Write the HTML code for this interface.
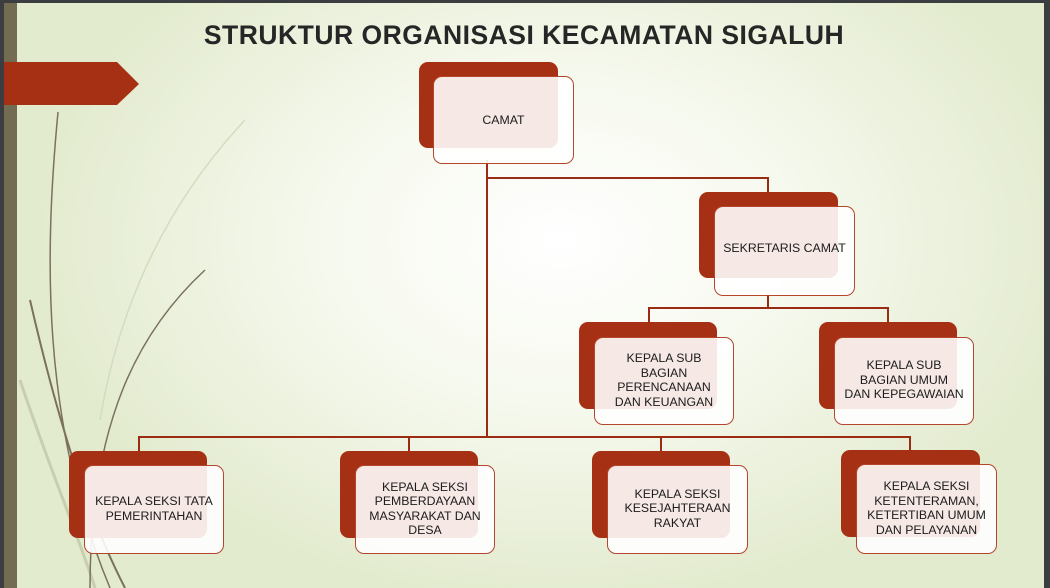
<!DOCTYPE html>
<html><head><meta charset="utf-8"><style>
html,body{margin:0;padding:0}
body{width:1050px;height:588px;position:relative;overflow:hidden;
background:radial-gradient(ellipse 520px 360px at 560px 240px,#ffffff 0%,#f6f9ee 45%,#e3ebcf 100%);
font-family:"Liberation Sans",sans-serif;}
.r{position:absolute;background:#a63013;border-radius:9px}
.f{position:absolute;background:rgba(255,255,255,0.89);border:1.5px solid #b4462c;border-radius:9px;box-sizing:border-box;display:flex;align-items:center;justify-content:center;text-align:center;font-size:12.3px;line-height:14.5px;color:#1c1c1c;padding:0;white-space:nowrap}
.l{position:absolute;background:#9b2c14}
</style></head><body>
<div style="position:absolute;left:0;top:0;width:1050px;height:3px;background:#3b3d40"></div>
<div style="position:absolute;left:0;top:0;width:4px;height:588px;background:#3b3d40"></div>
<div style="position:absolute;left:4px;top:3px;width:13px;height:585px;background:#736b52"></div>
<div style="position:absolute;left:1044px;top:0;width:6px;height:588px;background:#3b3d40"></div>
<svg style="position:absolute;left:0;top:0" width="1050" height="588">
<path d="M58 112 C45 250 40 420 110 588" stroke="#7a725a" stroke-width="1.5" fill="none"/>
<path d="M30 300 C60 430 90 520 125 588" stroke="#7a725a" stroke-width="2" fill="none"/>
<path d="M20 380 C50 470 80 540 95 588" stroke="#c7cfb0" stroke-width="3" fill="none"/>
<path d="M205 270 C140 330 90 420 90 588" stroke="#7a725a" stroke-width="1.5" fill="none"/>
<path d="M245 120 C170 200 120 300 100 420" stroke="#d4dcc0" stroke-width="1.5" fill="none"/>
<path d="M4 62 L117 62 L139 84 L117 105 L4 105 Z" fill="#a63013"/>
</svg>
<div style="position:absolute;left:0;width:1048px;top:20px;text-align:center;font-size:26.5px;font-weight:bold;color:#262626;letter-spacing:0.5px">STRUKTUR ORGANISASI KECAMATAN SIGALUH</div>

<div class="l" style="left:486px;top:160px;width:2px;height:278px"></div>
<div class="l" style="left:487px;top:177px;width:282px;height:1.5px"></div>
<div class="l" style="left:767px;top:177px;width:1.5px;height:16px"></div>
<div class="l" style="left:767px;top:294px;width:1.5px;height:15px"></div>
<div class="l" style="left:648px;top:307px;width:241px;height:1.5px"></div>
<div class="l" style="left:648px;top:307px;width:1.5px;height:16px"></div>
<div class="l" style="left:887px;top:307px;width:1.5px;height:16px"></div>
<div class="l" style="left:138px;top:436px;width:773px;height:1.5px"></div>
<div class="l" style="left:138px;top:436px;width:1.5px;height:16px"></div>
<div class="l" style="left:408px;top:436px;width:1.5px;height:16px"></div>
<div class="l" style="left:660px;top:436px;width:1.5px;height:16px"></div>
<div class="l" style="left:909px;top:436px;width:1.5px;height:16px"></div>

<div class="r" style="left:419px;top:62px;width:139px;height:86px"></div>
<div class="f" style="left:433px;top:76px;width:141px;height:88px">CAMAT</div>

<div class="r" style="left:699px;top:192px;width:139px;height:86px"></div>
<div class="f" style="left:714px;top:206px;width:141px;height:90px;padding-bottom:6px">SEKRETARIS CAMAT</div>

<div class="r" style="left:579px;top:322px;width:138px;height:87px"></div>
<div class="f" style="left:594px;top:337px;width:140px;height:88px;padding-bottom:2px">KEPALA SUB<br>BAGIAN<br>PERENCANAAN<br>DAN KEUANGAN</div>

<div class="r" style="left:819px;top:322px;width:138px;height:87px"></div>
<div class="f" style="left:834px;top:337px;width:140px;height:88px;padding-bottom:2px">KEPALA SUB<br>BAGIAN UMUM<br>DAN KEPEGAWAIAN</div>

<div class="r" style="left:69px;top:451px;width:138px;height:87px"></div>
<div class="f" style="left:84px;top:465px;width:140px;height:89px;padding-bottom:2px">KEPALA SEKSI TATA<br>PEMERINTAHAN</div>

<div class="r" style="left:340px;top:451px;width:138px;height:87px"></div>
<div class="f" style="left:355px;top:465px;width:140px;height:89px;padding-bottom:2px">KEPALA SEKSI<br>PEMBERDAYAAN<br>MASYARAKAT DAN<br>DESA</div>

<div class="r" style="left:592px;top:451px;width:138px;height:87px"></div>
<div class="f" style="left:607px;top:465px;width:141px;height:89px;padding-bottom:2px">KEPALA SEKSI<br>KESEJAHTERAAN<br>RAKYAT</div>

<div class="r" style="left:841px;top:450px;width:139px;height:87px"></div>
<div class="f" style="left:856px;top:464px;width:141px;height:90px;padding-bottom:2px">KEPALA SEKSI<br>KETENTERAMAN,<br>KETERTIBAN UMUM<br>DAN PELAYANAN</div>
</body></html>
